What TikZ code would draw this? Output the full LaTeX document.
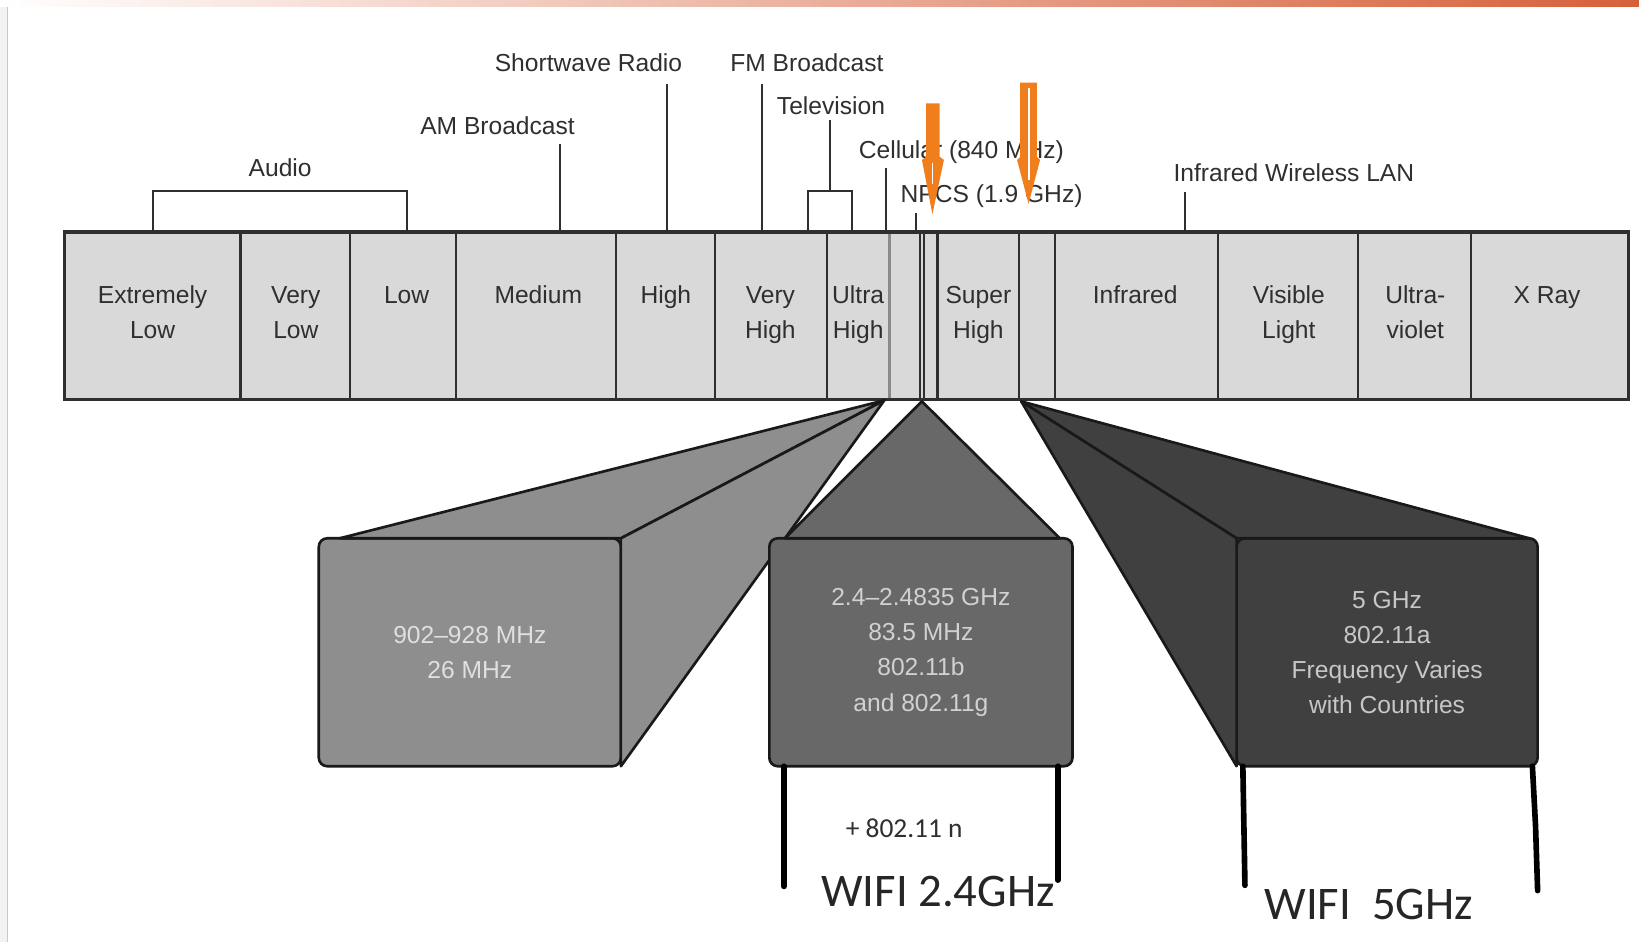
\documentclass[tikz,border=0pt]{standalone}
\usepackage{fontspec}
\setmainfont{Liberation Sans}
\newfontfamily\notefont{Carlito}
\usetikzlibrary{calc}
\definecolor{inkgray}{HTML}{2F2F2F}
\definecolor{barfill}{HTML}{D9D9D9}
\definecolor{uhfgray}{HTML}{8A8A8A}
\definecolor{boxone}{HTML}{8E8E8E}
\definecolor{boxtwo}{HTML}{686868}
\definecolor{boxthree}{HTML}{404040}
\definecolor{markorange}{HTML}{F07E1C}
\definecolor{bandorange}{HTML}{D6603A}

\begin{document}
\begin{tikzpicture}[
    x=0.010453cm, y=-0.010453cm,
    bandlbl/.style={font=\fontsize{7}{9.8}\selectfont, text=inkgray, align=center, anchor=base, inner sep=0pt},
    toplbl/.style={font=\fontsize{7}{9.8}\selectfont, text=inkgray, anchor=base, inner sep=0pt},
    callout/.style={draw=inkgray, line width=0.6pt},
    cellline/.style={draw=inkgray, line width=0.65pt},
    boxfront/.style={draw=black!90, line width=0.75pt, rounded corners=2.4pt, minimum height=2.279cm,
      inner sep=0pt, outer sep=0pt, align=center, font=\fontsize{7}{10}\selectfont},
    boxside/.style={draw=black!90, line width=0.75pt, line join=round},
    leg/.style={draw=black, line width=1.6pt, line cap=round},
    notelbl/.style={font=\notefont\fontsize{7.8}{9}\selectfont, text=inkgray, inner sep=0pt},
    wifilbl/.style={font=\notefont\fontsize{13.3}{15}\selectfont, text=black!85, anchor=west, inner sep=0pt}
  ]
  \useasboundingbox (0,0) rectangle (1568,901);
  \shade[left color=white, middle color=bandorange!40, right color=bandorange] (0,0) rectangle (1568,6.5);
  \fill[black!5] (0,6.5) rectangle (7,901);
  \draw[black!22, line width=0.3pt] (7.5,6.5) -- (7.5,901);

  \fill[barfill] (62,222) rectangle (1558,382);
  \foreach \x in {230,335,436,589,684,791,880,884,897,975,1009,1165,1299,1407}
    \draw[cellline] (\x,222) -- (\x,382);
  \draw[uhfgray, line width=0.75pt] (851,222) -- (851,382);
  \draw[inkgray, line width=0.9pt] (62,222) rectangle (1558,382);
  \foreach \name/\x/\y/\lbl in {%
    xlow/146/323.5/Extremely\\Low, vlow/283/323.5/Very\\Low, low/389/290.5/Low,
    med/515/290.5/Medium, high/637/290.5/High, vhigh/737/323.5/Very\\High,
    uhigh/821/323.5/Ultra\\High, shigh/936/323.5/Super\\High, ired/1086/290.5/Infrared,
    vis/1233/323.5/Visible\\Light, uv/1354/323.5/Ultra-\\violet, xray/1480/290.5/X Ray%
  }{
    \node[bandlbl] (band-\name) at (\x,\y) {\lbl};
  }

  \node[toplbl] (audio) at (268,168.5) {Audio};
  \node[toplbl] (am) at (476,128.5) {AM Broadcast};
  \node[toplbl] (sw) at (563,68.5) {Shortwave Radio};
  \node[toplbl] (fm) at (772,68.5) {FM Broadcast};
  \node[toplbl] (tv) at (795,109.5) {Television};
  \node[toplbl, anchor=base west] (cell) at (821,152) {Cellular (840 MHz)};
  \node[toplbl, anchor=base west] (npcs) at (861,193.5) {NPCS (1.9 GHz)};
  \node[toplbl, anchor=base west] (irlan) at (1122,174) {Infrared Wireless LAN};
  \foreach \name/\x/\y in {am/536/138, sw/638/80, fm/729/80, cell/848/161, npcs/876/204, irlan/1134/184}{
    \coordinate (\name-foot) at (\x,222);
    \coordinate (\name-tip) at (\x,\y);
    \draw[callout] (\name-foot) -- (\name-tip);
  }
  \coordinate (audio-l) at (146,222);
  \coordinate (audio-r) at (389,222);
  \draw[callout] (audio-l) -- ++(0,-39) -| (audio-r);
  \coordinate (tv-l) at (773,222);
  \coordinate (tv-r) at (815,222);
  \coordinate (tv-mid) at (794,183);
  \coordinate (tv-tip) at (794,115);
  \draw[callout] (tv-l) -- ++(0,-39) -| (tv-r);
  \draw[callout] (tv-mid) -- (tv-tip);

  \coordinate (apex-ism) at (846,383);
  \coordinate (apex-wifi) at (882,384);
  \coordinate (apex-unii) at (977,384);
  \node[boxfront, fill=boxone, text=white!88!black, minimum width=3.021cm] (box-ism) at (449.5,624) {902--928 MHz\\26 MHz};
  \filldraw[boxside, fill=boxone] (apex-ism) -- ($(box-ism.north west)+(20,0)$) -- (box-ism.north east) -- cycle;
  \filldraw[boxside, fill=boxone] (apex-ism) -- (box-ism.north east) -- (box-ism.south east) -- cycle;
  \node[boxfront, fill=boxtwo, text=white!82!black, minimum width=3.031cm] (box-wifi) at (881,624) {2.4--2.4835 GHz\\83.5 MHz\\802.11b\\and 802.11g};
  \filldraw[boxside, fill=boxtwo] (apex-wifi) -- ($(box-wifi.north west)+(15,0)$) -- ($(box-wifi.north east)+(-12,0)$) -- cycle;
  \node[boxfront, fill=boxthree, text=white!78!black, minimum width=3.010cm] (box-unii) at (1327,624) {5 GHz\\802.11a\\Frequency Varies\\with Countries};
  \filldraw[boxside, fill=boxthree] (apex-unii) -- (box-unii.north west) -- ($(box-unii.north east)+(-8,0)$) -- cycle;
  \filldraw[boxside, fill=boxthree] (apex-unii) -- (box-unii.north west) -- (box-unii.south west) -- cycle;

  \coordinate (foot-wl) at (750,848);
  \coordinate (foot-wr) at (1012,842);
  \coordinate (foot-ul) at (1191,847);
  \coordinate (foot-ur) at (1471,852);
  \draw[leg] (foot-wl |- box-wifi.south) -- (foot-wl);
  \draw[leg] (foot-wr |- box-wifi.south) -- (foot-wr);
  \draw[leg] (1189,733) -- (1190,790) -- (foot-ul);
  \draw[leg] (1466,733) -- (1469,790) -- (foot-ur);
  \node[notelbl] (plus-n) at (865,792) {+ 802.11 n};
  \node[wifilbl] (wifi-24) at (785,853) {WIFI 2.4GHz};
  \node[wifilbl] (wifi-5) at (1209,865) {WIFI\ \ 5GHz};

  \fill[markorange] (886,99) -- (899,99) -- (899,150) -- (903,153) -- (892,205) -- (882,153) -- (886,150) -- cycle;
  \fill[markorange] (976,79) -- (992,79) -- (992,150) -- (995,153) -- (984,195) -- (973,153) -- (976,150) -- cycle;
  \draw[white, line width=0.6pt] (984,84) -- (984,172);
  \draw[white, line width=0.5pt] (892,156) -- (892,176);
\end{tikzpicture}
\end{document}
